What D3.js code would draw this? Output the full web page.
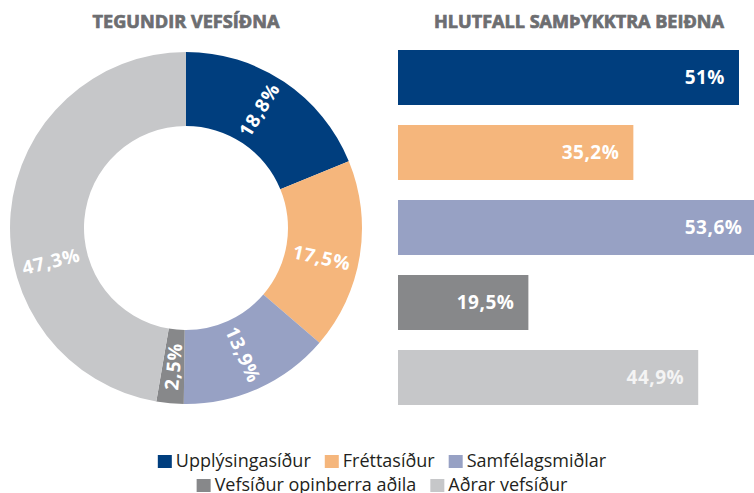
<!DOCTYPE html>
<html>
<head>
<meta charset="utf-8">
<script src="https://cdn.jsdelivr.net/npm/d3@7"></script>
<style>
  body { margin: 0; background: #fff; }
  svg { display: block; }
  text { font-family: "Open Sans", "Noto Sans", sans-serif; }
</style>
</head>
<body>
<svg id="chart" width="754" height="493"></svg>
<script>
// data
var categories = ["Upplýsingasíður", "Fréttasíður", "Samfélagsmiðlar", "Vefsíður opinberra aðila", "Aðrar vefsíður"];
var shareValues = [18.8, 17.5, 13.9, 2.5, 47.3];       // tegundir vefsíðna
var approvedValues = [51, 35.2, 53.6, 19.5, 44.9];      // hlutfall samþykktra beiðna
var labelAt = [0.47, 0.55, 0.5, 0.5, 0.39];             // where along the slice the label sits
var colors = ["#003e7e", "#f5b67c", "#97a1c4", "#87888a", "#c6c7c9"];

var fmt = function(v) { return String(v).replace(".", ",") + "%"; };

var svg = d3.select("#chart");

// titles
svg.append("text")
    .attr("x", 186).attr("y", 28)
    .attr("text-anchor", "middle")
    .attr("font-weight", 700).attr("font-size", 17)
    .attr("fill", "#6d6e71").attr("stroke", "#6d6e71").attr("stroke-width", 0.7)
    .attr("textLength", 187).attr("lengthAdjust", "spacingAndGlyphs")
    .text("TEGUNDIR VEFSÍÐNA");

svg.append("text")
    .attr("x", 579).attr("y", 28)
    .attr("text-anchor", "middle")
    .attr("font-weight", 700).attr("font-size", 17)
    .attr("fill", "#6d6e71").attr("stroke", "#6d6e71").attr("stroke-width", 0.7)
    .attr("textLength", 290).attr("lengthAdjust", "spacingAndGlyphs")
    .text("HLUTFALL SAMÞYKKTRA BEIÐNA");

// donut
var cx = 186, cy = 228, rOut = 176, rIn = 102;
var pie = d3.pie().sort(null).value(function(d) { return d; });
var arcs = pie(shareValues);
var arc = d3.arc().innerRadius(rIn).outerRadius(rOut);

var donut = svg.append("g").attr("transform", "translate(" + cx + "," + cy + ")");

donut.selectAll("path")
    .data(arcs)
  .enter()
  .append("path")
    .attr("d", arc)
    .attr("fill", function(d, i) { return colors[i]; });

var rLab = (rIn + rOut) / 2;
donut.selectAll("text.slice")
    .data(arcs)
  .enter()
  .append("text")
    .attr("class", "slice")
    .attr("transform", function(d, i) {
      var a = d.startAngle + (d.endAngle - d.startAngle) * labelAt[i];
      var x = Math.sin(a) * rLab, y = -Math.cos(a) * rLab;
      var rot = a * 180 / Math.PI - 90;
      if (rot > 90) rot -= 180;
      return "translate(" + x + "," + y + ") rotate(" + rot + ")";
    })
    .attr("text-anchor", "middle")
    .attr("dy", "0.36em")
    .attr("font-weight", 700).attr("font-size", 19)
    .attr("letter-spacing", 0.8)
    .attr("fill", "#fff")
    .text(function(d) { return fmt(d.data); });

// bars
var x = d3.scaleLinear().domain([0, 51]).range([0, 341]);
var y = d3.scaleBand().domain(categories).range([50, 405]).paddingInner(20 / 75);
var x0 = 398;

svg.selectAll("rect.bar")
    .data(approvedValues)
  .enter()
  .append("rect")
    .attr("class", "bar")
    .attr("x", x0)
    .attr("y", function(d, i) { return y(categories[i]); })
    .attr("width", function(d) { return x(d); })
    .attr("height", y.bandwidth())
    .attr("fill", function(d, i) { return colors[i]; });

svg.selectAll("text.bar")
    .data(approvedValues)
  .enter()
  .append("text")
    .attr("class", "bar")
    .attr("x", function(d) { return x0 + x(d) - 14; })
    .attr("y", function(d, i) { return y(categories[i]) + y.bandwidth() / 2; })
    .attr("dy", "0.36em")
    .attr("text-anchor", "end")
    .attr("font-weight", 700).attr("font-size", 19)
    .attr("letter-spacing", 0.5)
    .attr("fill", function(d, i) { return i == 4 ? "#f4f4f4" : "#fff"; })
    .text(function(d) { return fmt(d); });

// legend, two centred rows
var rows = [[0, 1, 2], [3, 4]];
var rowY = [461, 485];
rows.forEach(function(row, r) {
  var g = svg.append("g");
  var pos = 0;
  row.forEach(function(i) {
    var item = g.append("g").attr("transform", "translate(" + pos + ",0)");
    item.append("rect")
        .attr("x", 0).attr("y", -6)
        .attr("width", 14).attr("height", 13)
        .attr("fill", colors[i]);
    var t = item.append("text")
        .attr("x", 18).attr("y", 0)
        .attr("dy", "0.36em")
        .attr("font-size", 18)
        .attr("fill", "#231f20")
        .text(categories[i]);
    pos += 18 + t.node().getComputedTextLength() + 14;
  });
  pos -= 14;
  g.attr("transform", "translate(" + (382 - pos / 2) + "," + rowY[r] + ")");
});
</script>
</body>
</html>
